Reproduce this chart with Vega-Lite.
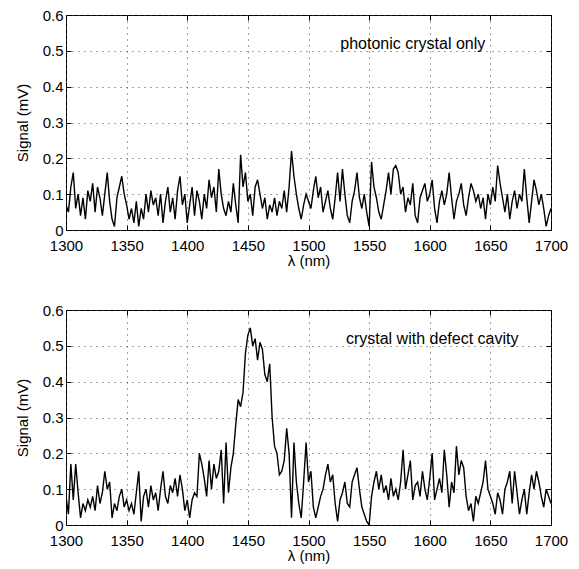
{
"$schema": "https://vega.github.io/schema/vega-lite/v6.json",
"padding": {"left": 14, "top": 7, "right": 5, "bottom": 5},
"background": "white",
"bounds": "flush",
"spacing": 80,
"config": {
  "font": "Liberation Sans",
  "view": {"stroke": "black", "strokeWidth": 1},
  "axis": {"labelFont": "Liberation Sans", "labelFontSize": 15, "labelColor": "black", "labelFlush": false, "titleFont": "Liberation Sans", "titleFontSize": 15, "titleFontWeight": "normal", "titleColor": "black", "tickColor": "black", "tickSize": -5, "domain": false, "gridColor": "#444", "gridDash": [1, 5], "gridOpacity": 1, "gridWidth": 1}
},
"datasets": {
  "top": [
{"nm":1300,"mV":0.07},{"nm":1302,"mV":0.05},{"nm":1304,"mV":0.12},{"nm":1306,"mV":0.16},{"nm":1308,"mV":0.06},{"nm":1310,"mV":0.10},{"nm":1312,"mV":0.04},{"nm":1314,"mV":0.09},{"nm":1316,"mV":0.03},{"nm":1318,"mV":0.11},
{"nm":1320,"mV":0.08},{"nm":1322,"mV":0.13},{"nm":1324,"mV":0.05},{"nm":1326,"mV":0.12},{"nm":1328,"mV":0.09},{"nm":1330,"mV":0.04},{"nm":1332,"mV":0.10},{"nm":1334,"mV":0.16},{"nm":1336,"mV":0.08},{"nm":1338,"mV":0.03},
{"nm":1340,"mV":0.01},{"nm":1342,"mV":0.09},{"nm":1344,"mV":0.12},{"nm":1346,"mV":0.15},{"nm":1348,"mV":0.10},{"nm":1350,"mV":0.07},{"nm":1352,"mV":0.03},{"nm":1354,"mV":0.06},{"nm":1356,"mV":0.02},{"nm":1358,"mV":0.08},
{"nm":1360,"mV":0.01},{"nm":1362,"mV":0.06},{"nm":1364,"mV":0.03},{"nm":1366,"mV":0.10},{"nm":1368,"mV":0.05},{"nm":1370,"mV":0.11},{"nm":1372,"mV":0.07},{"nm":1374,"mV":0.09},{"nm":1376,"mV":0.04},{"nm":1378,"mV":0.10},
{"nm":1380,"mV":0.02},{"nm":1382,"mV":0.08},{"nm":1384,"mV":0.12},{"nm":1386,"mV":0.05},{"nm":1388,"mV":0.09},{"nm":1390,"mV":0.03},{"nm":1392,"mV":0.11},{"nm":1394,"mV":0.15},{"nm":1396,"mV":0.07},{"nm":1398,"mV":0.10},
{"nm":1400,"mV":0.02},{"nm":1402,"mV":0.07},{"nm":1404,"mV":0.12},{"nm":1406,"mV":0.04},{"nm":1408,"mV":0.11},{"nm":1410,"mV":0.08},{"nm":1412,"mV":0.03},{"nm":1414,"mV":0.10},{"nm":1416,"mV":0.06},{"nm":1418,"mV":0.14},
{"nm":1420,"mV":0.09},{"nm":1422,"mV":0.12},{"nm":1424,"mV":0.05},{"nm":1426,"mV":0.17},{"nm":1428,"mV":0.10},{"nm":1430,"mV":0.06},{"nm":1432,"mV":0.04},{"nm":1434,"mV":0.08},{"nm":1436,"mV":0.05},{"nm":1438,"mV":0.13},
{"nm":1440,"mV":0.07},{"nm":1442,"mV":0.02},{"nm":1444,"mV":0.21},{"nm":1446,"mV":0.12},{"nm":1448,"mV":0.16},{"nm":1450,"mV":0.08},{"nm":1452,"mV":0.10},{"nm":1454,"mV":0.04},{"nm":1456,"mV":0.12},{"nm":1458,"mV":0.14},
{"nm":1460,"mV":0.10},{"nm":1462,"mV":0.06},{"nm":1464,"mV":0.09},{"nm":1466,"mV":0.03},{"nm":1468,"mV":0.07},{"nm":1470,"mV":0.05},{"nm":1472,"mV":0.09},{"nm":1474,"mV":0.04},{"nm":1476,"mV":0.08},{"nm":1478,"mV":0.06},
{"nm":1480,"mV":0.11},{"nm":1482,"mV":0.05},{"nm":1484,"mV":0.12},{"nm":1486,"mV":0.22},{"nm":1488,"mV":0.15},{"nm":1490,"mV":0.10},{"nm":1492,"mV":0.06},{"nm":1494,"mV":0.03},{"nm":1496,"mV":0.07},{"nm":1498,"mV":0.10},
{"nm":1500,"mV":0.08},{"nm":1502,"mV":0.06},{"nm":1504,"mV":0.11},{"nm":1506,"mV":0.15},{"nm":1508,"mV":0.09},{"nm":1510,"mV":0.12},{"nm":1512,"mV":0.05},{"nm":1514,"mV":0.08},{"nm":1516,"mV":0.11},{"nm":1518,"mV":0.06},
{"nm":1520,"mV":0.03},{"nm":1522,"mV":0.09},{"nm":1524,"mV":0.16},{"nm":1526,"mV":0.08},{"nm":1528,"mV":0.17},{"nm":1530,"mV":0.10},{"nm":1532,"mV":0.04},{"nm":1534,"mV":0.02},{"nm":1536,"mV":0.08},{"nm":1538,"mV":0.11},
{"nm":1540,"mV":0.16},{"nm":1542,"mV":0.09},{"nm":1544,"mV":0.06},{"nm":1546,"mV":0.10},{"nm":1548,"mV":0.05},{"nm":1550,"mV":0.01},{"nm":1552,"mV":0.19},{"nm":1554,"mV":0.12},{"nm":1556,"mV":0.09},{"nm":1558,"mV":0.05},
{"nm":1560,"mV":0.03},{"nm":1562,"mV":0.07},{"nm":1564,"mV":0.11},{"nm":1566,"mV":0.16},{"nm":1568,"mV":0.10},{"nm":1570,"mV":0.17},{"nm":1572,"mV":0.18},{"nm":1574,"mV":0.16},{"nm":1576,"mV":0.10},{"nm":1578,"mV":0.12},
{"nm":1580,"mV":0.05},{"nm":1582,"mV":0.09},{"nm":1584,"mV":0.07},{"nm":1586,"mV":0.13},{"nm":1588,"mV":0.04},{"nm":1590,"mV":0.02},{"nm":1592,"mV":0.09},{"nm":1594,"mV":0.11},{"nm":1596,"mV":0.13},{"nm":1598,"mV":0.08},
{"nm":1600,"mV":0.10},{"nm":1602,"mV":0.14},{"nm":1604,"mV":0.06},{"nm":1606,"mV":0.02},{"nm":1608,"mV":0.08},{"nm":1610,"mV":0.11},{"nm":1612,"mV":0.07},{"nm":1614,"mV":0.10},{"nm":1616,"mV":0.16},{"nm":1618,"mV":0.09},
{"nm":1620,"mV":0.03},{"nm":1622,"mV":0.08},{"nm":1624,"mV":0.10},{"nm":1626,"mV":0.13},{"nm":1628,"mV":0.07},{"nm":1630,"mV":0.04},{"nm":1632,"mV":0.09},{"nm":1634,"mV":0.13},{"nm":1636,"mV":0.11},{"nm":1638,"mV":0.08},
{"nm":1640,"mV":0.10},{"nm":1642,"mV":0.06},{"nm":1644,"mV":0.09},{"nm":1646,"mV":0.03},{"nm":1648,"mV":0.10},{"nm":1650,"mV":0.07},{"nm":1652,"mV":0.12},{"nm":1654,"mV":0.08},{"nm":1656,"mV":0.18},{"nm":1658,"mV":0.13},
{"nm":1660,"mV":0.09},{"nm":1662,"mV":0.05},{"nm":1664,"mV":0.10},{"nm":1666,"mV":0.03},{"nm":1668,"mV":0.08},{"nm":1670,"mV":0.11},{"nm":1672,"mV":0.06},{"nm":1674,"mV":0.10},{"nm":1676,"mV":0.08},{"nm":1678,"mV":0.17},
{"nm":1680,"mV":0.09},{"nm":1682,"mV":0.02},{"nm":1684,"mV":0.08},{"nm":1686,"mV":0.14},{"nm":1688,"mV":0.11},{"nm":1690,"mV":0.07},{"nm":1692,"mV":0.10},{"nm":1694,"mV":0.06},{"nm":1696,"mV":0.01},{"nm":1698,"mV":0.04},
{"nm":1700,"mV":0.06}
  ],
  "bottom": [
{"nm":1300,"mV":0.08},{"nm":1302,"mV":0.03},{"nm":1304,"mV":0.17},{"nm":1306,"mV":0.07},{"nm":1308,"mV":0.17},{"nm":1310,"mV":0.09},{"nm":1312,"mV":0.02},{"nm":1314,"mV":0.06},{"nm":1316,"mV":0.04},{"nm":1318,"mV":0.07},
{"nm":1320,"mV":0.05},{"nm":1322,"mV":0.08},{"nm":1324,"mV":0.04},{"nm":1326,"mV":0.11},{"nm":1328,"mV":0.06},{"nm":1330,"mV":0.09},{"nm":1332,"mV":0.15},{"nm":1334,"mV":0.10},{"nm":1336,"mV":0.12},{"nm":1338,"mV":0.02},
{"nm":1340,"mV":0.06},{"nm":1342,"mV":0.04},{"nm":1344,"mV":0.08},{"nm":1346,"mV":0.10},{"nm":1348,"mV":0.05},{"nm":1350,"mV":0.07},{"nm":1352,"mV":0.04},{"nm":1354,"mV":0.06},{"nm":1356,"mV":0.03},{"nm":1358,"mV":0.09},
{"nm":1360,"mV":0.15},{"nm":1362,"mV":0.01},{"nm":1364,"mV":0.08},{"nm":1366,"mV":0.10},{"nm":1368,"mV":0.05},{"nm":1370,"mV":0.11},{"nm":1372,"mV":0.07},{"nm":1374,"mV":0.09},{"nm":1376,"mV":0.04},{"nm":1378,"mV":0.10},
{"nm":1380,"mV":0.15},{"nm":1382,"mV":0.08},{"nm":1384,"mV":0.06},{"nm":1386,"mV":0.11},{"nm":1388,"mV":0.09},{"nm":1390,"mV":0.13},{"nm":1392,"mV":0.08},{"nm":1394,"mV":0.14},{"nm":1396,"mV":0.10},{"nm":1398,"mV":0.04},
{"nm":1400,"mV":0.07},{"nm":1402,"mV":0.02},{"nm":1404,"mV":0.07},{"nm":1406,"mV":0.09},{"nm":1408,"mV":0.08},{"nm":1410,"mV":0.20},{"nm":1412,"mV":0.17},{"nm":1414,"mV":0.13},{"nm":1416,"mV":0.08},{"nm":1418,"mV":0.18},
{"nm":1420,"mV":0.10},{"nm":1422,"mV":0.17},{"nm":1424,"mV":0.13},{"nm":1426,"mV":0.15},{"nm":1428,"mV":0.21},{"nm":1430,"mV":0.06},{"nm":1432,"mV":0.23},{"nm":1434,"mV":0.09},{"nm":1436,"mV":0.16},{"nm":1438,"mV":0.20},
{"nm":1440,"mV":0.28},{"nm":1442,"mV":0.35},{"nm":1444,"mV":0.33},{"nm":1446,"mV":0.37},{"nm":1448,"mV":0.48},{"nm":1450,"mV":0.53},{"nm":1452,"mV":0.55},{"nm":1454,"mV":0.50},{"nm":1456,"mV":0.52},{"nm":1458,"mV":0.46},
{"nm":1460,"mV":0.51},{"nm":1462,"mV":0.49},{"nm":1464,"mV":0.42},{"nm":1466,"mV":0.40},{"nm":1468,"mV":0.45},{"nm":1470,"mV":0.30},{"nm":1472,"mV":0.22},{"nm":1474,"mV":0.20},{"nm":1476,"mV":0.14},{"nm":1478,"mV":0.15},
{"nm":1480,"mV":0.18},{"nm":1482,"mV":0.27},{"nm":1484,"mV":0.20},{"nm":1486,"mV":0.02},{"nm":1488,"mV":0.23},{"nm":1490,"mV":0.12},{"nm":1492,"mV":0.06},{"nm":1494,"mV":0.02},{"nm":1496,"mV":0.12},{"nm":1498,"mV":0.23},
{"nm":1500,"mV":0.12},{"nm":1502,"mV":0.15},{"nm":1504,"mV":0.05},{"nm":1506,"mV":0.02},{"nm":1508,"mV":0.05},{"nm":1510,"mV":0.08},{"nm":1512,"mV":0.10},{"nm":1514,"mV":0.14},{"nm":1516,"mV":0.17},{"nm":1518,"mV":0.12},
{"nm":1520,"mV":0.14},{"nm":1522,"mV":0.06},{"nm":1524,"mV":0.01},{"nm":1526,"mV":0.07},{"nm":1528,"mV":0.09},{"nm":1530,"mV":0.12},{"nm":1532,"mV":0.06},{"nm":1534,"mV":0.05},{"nm":1536,"mV":0.12},{"nm":1538,"mV":0.14},
{"nm":1540,"mV":0.16},{"nm":1542,"mV":0.10},{"nm":1544,"mV":0.05},{"nm":1546,"mV":0.03},{"nm":1548,"mV":0.01},{"nm":1550,"mV":0.00},{"nm":1552,"mV":0.08},{"nm":1554,"mV":0.12},{"nm":1556,"mV":0.15},{"nm":1558,"mV":0.10},
{"nm":1560,"mV":0.14},{"nm":1562,"mV":0.09},{"nm":1564,"mV":0.11},{"nm":1566,"mV":0.07},{"nm":1568,"mV":0.13},{"nm":1570,"mV":0.08},{"nm":1572,"mV":0.10},{"nm":1574,"mV":0.07},{"nm":1576,"mV":0.12},{"nm":1578,"mV":0.21},
{"nm":1580,"mV":0.10},{"nm":1582,"mV":0.14},{"nm":1584,"mV":0.18},{"nm":1586,"mV":0.07},{"nm":1588,"mV":0.11},{"nm":1590,"mV":0.12},{"nm":1592,"mV":0.08},{"nm":1594,"mV":0.15},{"nm":1596,"mV":0.10},{"nm":1598,"mV":0.07},
{"nm":1600,"mV":0.13},{"nm":1602,"mV":0.20},{"nm":1604,"mV":0.07},{"nm":1606,"mV":0.10},{"nm":1608,"mV":0.13},{"nm":1610,"mV":0.09},{"nm":1612,"mV":0.21},{"nm":1614,"mV":0.14},{"nm":1616,"mV":0.05},{"nm":1618,"mV":0.12},
{"nm":1620,"mV":0.09},{"nm":1622,"mV":0.22},{"nm":1624,"mV":0.14},{"nm":1626,"mV":0.18},{"nm":1628,"mV":0.16},{"nm":1630,"mV":0.08},{"nm":1632,"mV":0.04},{"nm":1634,"mV":0.06},{"nm":1636,"mV":0.01},{"nm":1638,"mV":0.08},
{"nm":1640,"mV":0.06},{"nm":1642,"mV":0.09},{"nm":1644,"mV":0.12},{"nm":1646,"mV":0.18},{"nm":1648,"mV":0.10},{"nm":1650,"mV":0.08},{"nm":1652,"mV":0.06},{"nm":1654,"mV":0.03},{"nm":1656,"mV":0.09},{"nm":1658,"mV":0.07},
{"nm":1660,"mV":0.03},{"nm":1662,"mV":0.10},{"nm":1664,"mV":0.12},{"nm":1666,"mV":0.15},{"nm":1668,"mV":0.06},{"nm":1670,"mV":0.15},{"nm":1672,"mV":0.09},{"nm":1674,"mV":0.03},{"nm":1676,"mV":0.07},{"nm":1678,"mV":0.10},
{"nm":1680,"mV":0.03},{"nm":1682,"mV":0.09},{"nm":1684,"mV":0.14},{"nm":1686,"mV":0.10},{"nm":1688,"mV":0.15},{"nm":1690,"mV":0.12},{"nm":1692,"mV":0.08},{"nm":1694,"mV":0.05},{"nm":1696,"mV":0.10},{"nm":1698,"mV":0.08},
{"nm":1700,"mV":0.06}
  ],
  "note_top": [{"nm": 1586, "mV": 0.52, "note": "photonic crystal only"}],
  "note_bottom": [{"nm": 1602, "mV": 0.52, "note": "crystal with defect cavity"}]
},
"vconcat": [
  {
    "width": 485, "height": 215,
    "resolve": {"axis": {"x": "independent", "y": "independent"}},
    "layer": [
      {
        "data": {"name": "top"},
        "mark": {"type": "line", "color": "black", "strokeWidth": 1.4, "clip": true},
        "encoding": {
          "x": {"field": "nm", "type": "quantitative", "scale": {"domain": [1300, 1700], "nice": false, "zero": false},
                "axis": {"title": "λ (nm)", "values": [1300,1350,1400,1450,1500,1550,1600,1650,1700], "format": "d", "labelPadding": 13, "titlePadding": 0}},
          "y": {"field": "mV", "type": "quantitative", "scale": {"domain": [0, 0.6], "nice": false},
                "axis": {"title": "Signal (mV)", "values": [0,0.1,0.2,0.3,0.4,0.5,0.6], "format": ".1~f", "labelPadding": 8, "titlePadding": 12}}
        }
      },
      {
        "data": {"name": "note_top"},
        "mark": {"type": "text", "fontSize": 16, "font": "Liberation Sans", "color": "black", "align": "center", "baseline": "middle"},
        "encoding": {
          "x": {"field": "nm", "type": "quantitative", "axis": {"orient": "top", "labels": false, "title": null, "grid": false, "values": [1300,1350,1400,1450,1500,1550,1600,1650,1700]}},
          "y": {"field": "mV", "type": "quantitative", "axis": {"orient": "right", "labels": false, "title": null, "grid": false, "values": [0,0.1,0.2,0.3,0.4,0.5,0.6]}},
          "text": {"field": "note"}
        }
      }
    ]
  },
  {
    "width": 485, "height": 215,
    "resolve": {"axis": {"x": "independent", "y": "independent"}},
    "layer": [
      {
        "data": {"name": "bottom"},
        "mark": {"type": "line", "color": "black", "strokeWidth": 1.4, "clip": true},
        "encoding": {
          "x": {"field": "nm", "type": "quantitative", "scale": {"domain": [1300, 1700], "nice": false, "zero": false},
                "axis": {"title": "λ (nm)", "values": [1300,1350,1400,1450,1500,1550,1600,1650,1700], "format": "d", "labelPadding": 13, "titlePadding": 0}},
          "y": {"field": "mV", "type": "quantitative", "scale": {"domain": [0, 0.6], "nice": false},
                "axis": {"title": "Signal (mV)", "values": [0,0.1,0.2,0.3,0.4,0.5,0.6], "format": ".1~f", "labelPadding": 8, "titlePadding": 12}}
        }
      },
      {
        "data": {"name": "note_bottom"},
        "mark": {"type": "text", "fontSize": 16, "font": "Liberation Sans", "color": "black", "align": "center", "baseline": "middle"},
        "encoding": {
          "x": {"field": "nm", "type": "quantitative", "axis": {"orient": "top", "labels": false, "title": null, "grid": false, "values": [1300,1350,1400,1450,1500,1550,1600,1650,1700]}},
          "y": {"field": "mV", "type": "quantitative", "axis": {"orient": "right", "labels": false, "title": null, "grid": false, "values": [0,0.1,0.2,0.3,0.4,0.5,0.6]}},
          "text": {"field": "note"}
        }
      }
    ]
  }
]
}
